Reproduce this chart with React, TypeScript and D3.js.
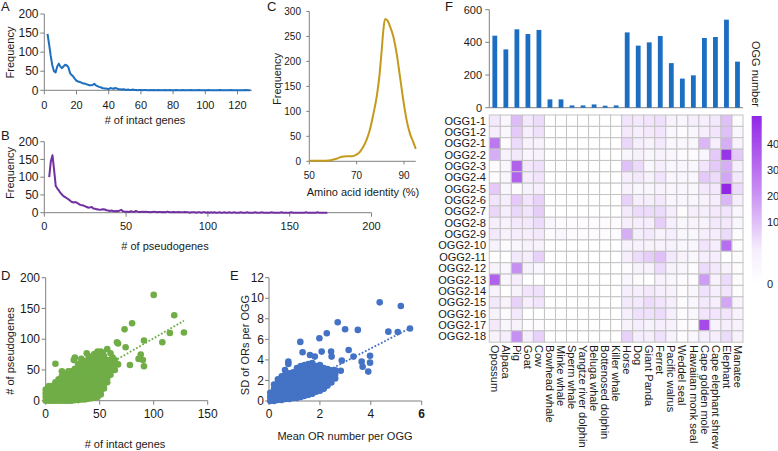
import React from 'react';
import * as d3 from 'd3';

const FONT = '"Liberation Sans", Arial, Helvetica, sans-serif';
const AXIS = '#808080';
const TXT = '#1a1a1a';

// ---------- Panel A: intact genes distribution ----------
const aStart = 2;
const aFreq = [148,120,90,65,50,47,62,70,62,58,63,67,65,60,45,40,36,30,25,23,22,20,18,18,16,15,13,13,14,17,13,11,9,8,6,5,5,4,3,6,5,4,6,5,3,3,2,3,2,1,2,1,1,2,1,1,0,1,1,
  0,1,1,0,0,1,0,1,0,0, 1,0,0,0,1,0,0,1,0,0, 0,1,0,0,0,1,0,0,0,0, 1,0,0,0,0,1,0,0,0,0, 0,1,0,0,0,0,0,0,1,0, 0,0,0,0,0,1,0,0,0,0, 0,0,0,0,1,0,0,0];
const aXTicks = [0,20,40,60,80,100,120];
const freqTicks = [0,50,100,150,200];

// ---------- Panel B: pseudogenes distribution ----------
const bStart = 3;
const bFreq = [100,145,162,120,75,68,62,55,50,46,43,40,37,33,30,29,30,28,25,22,21,20,18,16,14,15,16,12,11,10,9,8,9,10,9,7,6,5,6,5,4,5,4,6,8,4,3,3,
  3,2,4,3,2,5,3,2,2,3, 2,3,2,2,1,2,3,2,1,2, 2,1,2,1,3,2,1,1,2,1, 1,2,1,1,1,2,1,1,0,1, 1,1,0,1,1,0,1,1,0,1, 0,1,0,1,0,0,1,0,0,1,
  0,0,1,0,0,1,0,0,0,1, 0,0,0,1,0,0,0,0,1,0, 0,0,1,0,0,0,0,0,1,0, 0,0,0,0,1,0,0,0,0,0, 1,0,0,0,0,0,0,0,0,1, 0,0,0,0,0,0,1,0,0,0, 0,0,0];
const bXTicks = [0,50,100,150,200];

// ---------- Panel C: amino acid identity ----------
const cIdentity = [50,57,61.5,63.7,65.8,67.9,69.3,71.4,72.8,74.2,75.6,77,78.5,79.6,80.6,81.3,82,83,84.1,85.5,86.9,88.3,89.7,91.1,92.5,93.9,95];
const cFreq = [1,1,5,9,10,10,12,19,29,43,63,93,130,170,223,263,285,282,270,250,216,170,123,83,56,39,25];
const cYTicks = [0,50,100,150,200,250,300];
const cXTicks = [50,70,90];

// ---------- Panel D: intact vs pseudogenes ----------
const dOutIntact = [100,119,80,73,115,128,108,91,66,67,74,57,88,90,86,91,78,67,60,53,48,45,38,27,26,9,15,33,40,50,55,62];
const dOutPseudo = [172,139,126,116,110,111,95,98,95,93,87,84,75,66,68,56,58,59,77,78,80,76,77,70,66,60,48,68,72,70,65,70];
const dClusterIntact = [0,3,6,9,12,15,18,21,24,27,30,33,36,39,42,45,48,51,54,57,60,64];
const dClusterPseudo = [
  [0,6,12,18],[0,6,12,18,24],[0,6,12,18,24],[0,6,12,18,24,30],[0,6,12,18,24,30,35],[0,6,12,18,24,30,36,40],
  [0,6,12,18,24,30,36,42],[0,6,12,18,24,30,36,42,48],[0,6,12,18,24,30,36,42,48],[1,6,12,18,24,30,36,42,48,52],
  [1,6,11,16,22,28,34,40,46,54,60],[2,7,12,17,23,29,35,41,47,55,62],[2,8,14,20,26,32,38,44,50,56,64],[3,9,15,21,27,33,39,45,51,58,66],
  [4,10,16,22,28,34,40,46,52,60,68],[5,11,17,23,29,35,41,47,54,62,72],[6,12,18,24,30,36,42,48,56,66,76],[10,16,22,28,34,40,46,53,60,68,80],
  [20,27,34,41,48,56,64,72],[30,37,44,51,58,66],[42,50,58,66],[50,58,66]];
const dTrendX = [0,128];
const dTrendY = [0,130];
const dXTicks = [0,50,100,150];
const dYTicks = [0,50,100,150,200];

// ---------- Panel E: mean vs SD ----------
const eOutMean = [4.35,5.18,2.7,2.99,3.49,2.27,1.98,1.23,5.54,5.06,4.69,3.13,3.32,3.64,3.97,3.97,3.9,3.68,2.86,2.44,2.46,1.8,1.61,1.32,2.07,0.76,0.76,0.63,2.82,2.14];
const eOutSD = [9.6,9.25,7.66,6.98,6.92,6.59,6.1,5.75,7.05,6.72,6.75,4.97,4.32,3.83,4.4,3.73,2.86,3.34,3.93,4.81,4.32,4.32,4.48,4.74,4.81,3.83,3.6,3.02,2.95,1.23];
const eClusterMean = [0.05,0.2,0.35,0.5,0.65,0.8,0.95,1.1,1.25,1.4,1.55,1.7,1.85,2.0,2.15,2.3,2.45,2.6];
const eClusterSD = [
  [0,0.4,0.8],[0,0.4,0.8,1.2,1.6],[0.1,0.5,0.9,1.3,1.7,2.1],[0.1,0.5,0.9,1.3,1.7,2.1,2.4],[0.2,0.6,1.0,1.4,1.8,2.2,2.6],
  [0.2,0.6,1.0,1.4,1.8,2.2,2.7],[0.3,0.7,1.1,1.5,1.9,2.3,2.8],[0.3,0.7,1.1,1.5,1.9,2.3,2.8,3.2],[0.4,0.8,1.2,1.6,2.0,2.4,2.9,3.4],
  [0.5,0.9,1.3,1.7,2.1,2.5,3.0,3.5],[0.6,1.0,1.4,1.8,2.2,2.6,3.1,3.6],[0.7,1.1,1.5,1.9,2.3,2.7,3.2,3.7],[0.9,1.3,1.7,2.1,2.5,2.9,3.4],
  [1.0,1.4,1.8,2.2,2.6,3.0,3.5],[1.2,1.6,2.0,2.4,2.8,3.2],[1.5,1.9,2.3,2.7,3.1],[1.8,2.2,2.6,3.0],[2.2,2.6,3.0]];
const eTrendX = [0,5.55];
const eTrendY = [0,7.1];
const eXTicks = [0,2,4,6];
const eYTicks = [0,2,4,6,8,10,12];

// ---------- Panel F: OGG numbers & heatmap ----------
const species = ['Opossum','Alpaca','Pig','Goat','Cow','Bowhead whale','Minke whale','Sperm whale','Yangtze river dolphin','Beluga whale','Bottenosed dolphin','Killer whale','Horse','Dog','Giant Panda','Ferret','Pacific walrus','Weddel seal','Hawaiian monk seal','Cape golden mole','Cape elephant shrew','Elephant','Manatee'];
const oggNumber = [441,357,480,451,476,51,51,14,14,20,12,14,461,380,400,439,273,178,198,427,433,539,282];
const oggTicks = [0,200,400,600];
const oggGroups = ['OGG1-1','OGG1-2','OGG2-1','OGG2-2','OGG2-3','OGG2-4','OGG2-5','OGG2-6','OGG2-7','OGG2-8','OGG2-9','OGG2-10','OGG2-11','OGG2-12','OGG2-13','OGG2-14','OGG2-15','OGG2-16','OGG2-17','OGG2-18'];
const heat = [
  [5,2,15,5,8,0,0,0,0,0,0,0,6,5,6,7,3,2,4,4,5,14,1],
  [4,2,12,4,7,0,0,0,0,0,0,0,5,4,5,6,2,1,2,4,6,14,2],
  [30,1,8,3,3,0,0,0,0,0,0,0,9,4,3,5,2,2,2,16,4,18,3],
  [18,3,5,2,3,0,0,0,0,0,0,0,2,3,2,3,2,1,1,2,12,45,12],
  [1,2,35,5,7,0,0,0,0,0,0,0,14,8,2,4,2,2,2,6,12,18,4],
  [1,2,35,4,6,0,0,0,0,0,0,0,4,5,3,6,2,2,2,12,8,20,5],
  [12,2,1,3,4,0,0,0,0,0,0,0,3,2,2,3,2,2,2,5,5,48,8],
  [6,4,12,6,10,0,0,0,0,0,0,0,10,4,4,5,2,2,2,3,4,16,4],
  [9,4,9,6,11,0,0,0,0,0,0,0,5,8,8,8,4,1,4,4,5,6,2],
  [4,3,5,5,8,2,1,1,1,1,1,1,4,4,4,11,4,2,3,3,5,5,2],
  [5,3,4,4,5,1,2,1,1,1,1,1,18,4,5,3,4,2,2,4,4,8,1],
  [3,1,2,3,3,0,0,0,0,0,0,0,3,3,3,3,3,2,2,6,4,32,1],
  [0,0,5,4,10,0,0,0,0,0,0,0,4,8,11,14,5,3,2,4,4,0,1],
  [3,2,25,3,2,0,0,0,0,0,0,0,1,3,3,8,3,2,1,8,5,3,1],
  [35,2,4,0,0,0,0,0,0,0,0,0,2,1,0,3,2,1,1,22,3,8,1],
  [3,0,3,6,7,0,0,0,0,0,0,0,4,4,5,4,3,1,2,7,4,6,1],
  [5,3,10,4,6,0,0,0,0,0,0,0,5,5,8,6,4,1,2,5,4,20,3],
  [3,1,5,0,0,0,0,0,0,0,0,0,4,7,7,8,4,1,2,6,6,6,3],
  [5,2,3,1,1,0,0,0,0,0,0,0,3,4,3,4,3,1,1,40,3,4,3],
  [3,4,25,4,10,0,0,0,0,0,0,0,10,4,4,7,3,1,2,4,4,8,3]];
const cbTicks = [0,10,20,30,40];

const fmt = (v: number) => String(v);

function YAxis({ x, scale, ticks, labelX, size = 11, len = 4 }: any) {
  const [r0, r1] = scale.range();
  return (
    <g>
      <line x1={x} x2={x} y1={r0} y2={r1} stroke={AXIS} strokeWidth={1} />
      {ticks.map((t: number) => (
        <g key={t}>
          <line x1={x - len} x2={x} y1={scale(t)} y2={scale(t)} stroke={AXIS} />
          <text x={labelX} y={scale(t)} dy="0.35em" textAnchor="end" fontSize={size} fill={TXT}>{fmt(t)}</text>
        </g>
      ))}
    </g>
  );
}

function XAxis({ y, scale, ticks, labelY, size = 11, len = 4, bold = [] as number[] }: any) {
  const [r0, r1] = scale.range();
  return (
    <g>
      <line x1={r0} x2={r1} y1={y} y2={y} stroke={AXIS} strokeWidth={1} />
      {ticks.map((t: number) => (
        <g key={t}>
          <line x1={scale(t)} x2={scale(t)} y1={y} y2={y + len} stroke={AXIS} />
          <text x={scale(t)} y={labelY} textAnchor="middle" fontSize={size} fill={TXT} fontWeight={bold.includes(t) ? 'bold' : 'normal'}>{fmt(t)}</text>
        </g>
      ))}
    </g>
  );
}

function VTitle({ x, y, children, size = 11 }: any) {
  return <text transform={`translate(${x},${y}) rotate(-90)`} textAnchor="middle" dy="0.35em" fontSize={size} fill={TXT}>{children}</text>;
}

export default function App() {
  // A
  const ax = d3.scaleLinear().domain([0, 129]).range([44.3, 252]);
  const ay = d3.scaleLinear().domain([0, 200]).range([90.3, 14]);
  const aLine = d3.line<number>().x((_, i) => ax(aStart + i)).y(v => ay(v));
  // B
  const bx = d3.scaleLinear().domain([0, 200]).range([44.3, 371.5]);
  const by = d3.scaleLinear().domain([0, 200]).range([212.7, 141.7]);
  const bLine = d3.line<number>().x((_, i) => bx(bStart + i)).y(v => by(v));
  // C
  const cx = d3.scaleLinear().domain([50, 95]).range([309.3, 415.8]);
  const cy = d3.scaleLinear().domain([0, 300]).range([161.3, 11.5]);
  const cLine = d3.line<number>().x(v => cx(v)).y((_, i) => cy(cFreq[i])).curve(d3.curveMonotoneX);
  // D
  const dx = d3.scaleLinear().domain([0, 150]).range([45.7, 207.7]);
  const dy = d3.scaleLinear().domain([0, 200]).range([400.7, 277.7]);
  const dPts: [number, number][] = [];
  dClusterIntact.forEach((xv, i) => dClusterPseudo[i].forEach(yv => dPts.push([xv, yv])));
  dOutIntact.forEach((xv, i) => dPts.push([xv, dOutPseudo[i]]));
  // E
  const ex = d3.scaleLinear().domain([0, 6]).range([269, 421.7]);
  const ey = d3.scaleLinear().domain([0, 12]).range([401, 277.7]);
  const ePts: [number, number][] = [];
  eClusterMean.forEach((xv, i) => eClusterSD[i].forEach(yv => ePts.push([xv, yv])));
  eOutMean.forEach((xv, i) => ePts.push([xv, eOutSD[i]]));
  // F
  const fx = d3.scaleBand<string>().domain(species).range([489.3, 743]);
  const fyBar = d3.scaleLinear().domain([0, 600]).range([107.7, 9.7]);
  const fyRow = d3.scaleBand<string>().domain(oggGroups).range([115, 342.2]);
  const color = d3.scaleLinear<string>().domain([0, 48]).range(['#ffffff', '#9227e6']).interpolate(d3.interpolateRgb).clamp(true);
  const cbPos = d3.scaleLinear().domain([0, 10, 40]).range([284, 222, 144]);

  return (
    <svg width={778} height={451} style={{ position: 'absolute', left: 0, top: 0, background: '#fff' }} fontFamily={FONT}>
      <defs>
        <linearGradient id="cbgrad" x1="0" x2="0" y1="0" y2="1">
          <stop offset="0" stopColor="#9227e6" />
          <stop offset="0.45" stopColor="#c98ef2" />
          <stop offset="0.8" stopColor="#f6eefd" />
          <stop offset="1" stopColor="#ffffff" />
        </linearGradient>
      </defs>

      {/* Panel letters */}
      <g fontSize={13} fill={TXT}>
        <text x={1} y={11}>A</text>
        <text x={1} y={140}>B</text>
        <text x={267} y={11}>C</text>
        <text x={1} y={280}>D</text>
        <text x={230} y={280}>E</text>
        <text x={445} y={11}>F</text>
      </g>

      {/* A */}
      <YAxis x={44.3} scale={ay} ticks={freqTicks} labelX={38.5} size={12} />
      <XAxis y={90.3} scale={ax} ticks={aXTicks} labelY={109} />
      <path d={aLine(aFreq) || ''} fill="none" stroke="#1f6fbf" strokeWidth={2} strokeLinejoin="round" />
      <VTitle x={10} y={52.5}>Frequency</VTitle>
      <text x={145} y={123.5} textAnchor="middle" fontSize={11} fill={TXT}># of intact genes</text>

      {/* B */}
      <YAxis x={44.3} scale={by} ticks={freqTicks} labelX={38.5} size={12} />
      <XAxis y={212.7} scale={bx} ticks={bXTicks} labelY={229.5} />
      <path d={bLine(bFreq) || ''} fill="none" stroke="#7030a0" strokeWidth={2} strokeLinejoin="round" />
      <VTitle x={10} y={173}>Frequency</VTitle>
      <text x={165} y={250} textAnchor="middle" fontSize={11} fill={TXT}># of pseudogenes</text>

      {/* C */}
      <YAxis x={309.3} scale={cy} ticks={cYTicks} labelX={301} size={10} len={3} />
      <XAxis y={161.3} scale={cx} ticks={cXTicks} labelY={178.5} size={10} len={3} />
      <path d={cLine(cIdentity) || ''} fill="none" stroke="#c49a1c" strokeWidth={2} />
      <VTitle x={277} y={79}>Frequency</VTitle>
      <text x={363} y={196} textAnchor="middle" fontSize={11} fill={TXT}>Amino acid identity (%)</text>

      {/* D */}
      <YAxis x={45.7} scale={dy} ticks={dYTicks} labelX={40} size={12} />
      <XAxis y={400.7} scale={dx} ticks={dXTicks} labelY={418} size={12} />
      {dPts.map(([a, b], i) => <circle key={i} cx={dx(a)} cy={dy(b)} r={3.3} fill="#70ad47" />)}
      <line x1={dx(dTrendX[0])} y1={dy(dTrendY[0])} x2={dx(dTrendX[1])} y2={dy(dTrendY[1])} stroke="#70ad47" strokeWidth={1.8} strokeDasharray="1.8,1.8" />
      <VTitle x={10} y={351}># of pseudogenes</VTitle>
      <text x={125} y={448} textAnchor="middle" fontSize={11} fill={TXT}># of intact genes</text>

      {/* E */}
      <YAxis x={269} scale={ey} ticks={eYTicks} labelX={264} size={12} />
      <XAxis y={401} scale={ex} ticks={eXTicks} labelY={418} size={12} bold={[6]} />
      {ePts.map(([a, b], i) => <circle key={i} cx={ex(a)} cy={ey(b)} r={3.3} fill="#4472c4" />)}
      <line x1={ex(eTrendX[0])} y1={ey(eTrendY[0])} x2={ex(eTrendX[1])} y2={ey(eTrendY[1])} stroke="#4472c4" strokeWidth={1.8} strokeDasharray="1.8,1.8" />
      <VTitle x={245} y={345}>SD of ORs per OGG</VTitle>
      <text x={345} y={440} textAnchor="middle" fontSize={11} fill={TXT}>Mean OR number per OGG</text>

      {/* F bars */}
      <YAxis x={489.3} scale={fyBar} ticks={oggTicks} labelX={482} />
      <line x1={489.3} x2={743} y1={107.7} y2={107.7} stroke={AXIS} />
      {species.map((s, i) => (
        <rect key={s} x={(fx(s) as number) + fx.bandwidth() / 2 - 2.4} width={4.8} y={fyBar(oggNumber[i])} height={fyBar(0) - fyBar(oggNumber[i])} fill="#1b6ec2" />
      ))}
      <text transform="translate(756,74) rotate(90)" textAnchor="middle" dy="0.35em" fontSize={11} fill={TXT}>OGG number</text>

      {/* F heatmap */}
      {oggGroups.map((g, r) => species.map((s, c) => (
        <rect key={g + s} x={fx(s)} y={fyRow(g)} width={fx.bandwidth()} height={fyRow.bandwidth()} fill={color(heat[r][c])} stroke="#c4c4c4" strokeWidth={1} />
      )))}
      {oggGroups.map(g => (
        <text key={g} x={486} y={(fyRow(g) as number) + fyRow.bandwidth() / 2} dy="0.35em" textAnchor="end" fontSize={11} fill={TXT}>{g}</text>
      ))}
      {species.map(s => (
        <text key={s} transform={`translate(${(fx(s) as number) + fx.bandwidth() / 2},345) rotate(90)`} dy="0.35em" fontSize={11} fill={TXT}>{s}</text>
      ))}

      {/* colorbar */}
      <rect x={751.7} y={116} width={10} height={168} fill="url(#cbgrad)" />
      {cbTicks.map(t => (
        <text key={t} x={767} y={cbPos(t)} dy="0.35em" fontSize={11} fill={TXT}>{t}</text>
      ))}
    </svg>
  );
}
